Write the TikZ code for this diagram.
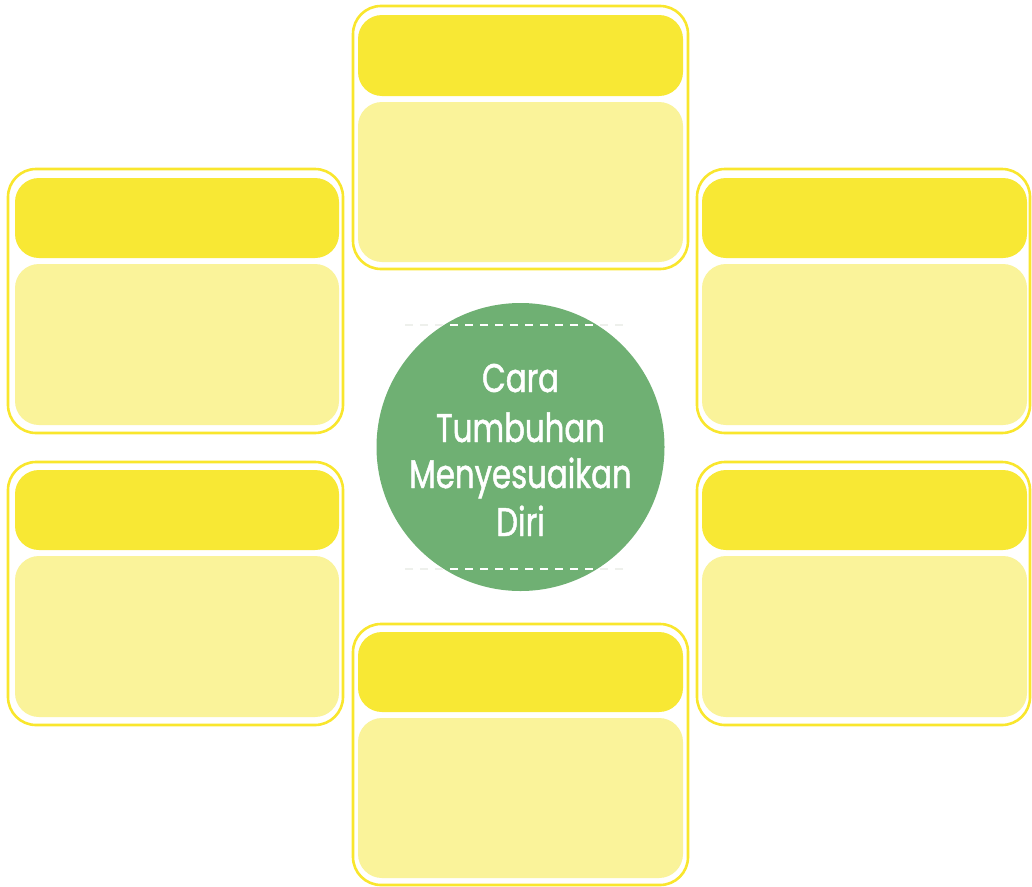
\documentclass[tikz,border=0pt]{standalone}
\usepackage{fontspec}
\newfontfamily\labelfont[FakeStretch=0.77,FakeBold=1.2]{Poppins}
\definecolor{cardline}{RGB}{249,230,45}
\definecolor{headfill}{RGB}{248,232,52}
\definecolor{bodyfill}{RGB}{250,243,154}
\definecolor{circfill}{RGB}{111,176,115}
\definecolor{faintdash}{RGB}{238,240,236}
\tikzset{
  outerbox/.style={draw=cardline, line width=2.6pt, rounded corners=28pt, fill=white, inner sep=0pt},
  headbox/.style={fill=headfill, rounded corners=24pt, inner sep=0pt},
  bodybox/.style={fill=bodyfill, rounded corners=24pt, inner sep=0pt},
  titletext/.style={text=white, font=\labelfont\fontsize{40}{48}\selectfont, inner sep=0pt, anchor=base},
  dashline/.style={line width=2pt, dash pattern=on 8pt off 7pt}
}
\begin{document}
\begin{tikzpicture}[x=1pt,y=-1pt]
\useasboundingbox (0,0) rectangle (1032,886);
% top card
\node[outerbox, minimum width=335pt, minimum height=263pt] (topO) at (520.5,137.5) {};
\node[headbox, minimum width=325pt, minimum height=81pt] (topH) at (520.5,55.5) {};
\node[bodybox, minimum width=325pt, minimum height=160pt] (topB) at (520.5,182) {};
% left top card
\node[outerbox, minimum width=335pt, minimum height=264pt] (ltO) at (175.5,301) {};
\node[headbox, minimum width=324pt, minimum height=80pt] (ltH) at (177,218) {};
\node[bodybox, minimum width=324pt, minimum height=161pt] (ltB) at (177,344.5) {};
% left bottom card
\node[outerbox, minimum width=335pt, minimum height=263pt] (lbO) at (175.5,593.5) {};
\node[headbox, minimum width=324pt, minimum height=80pt] (lbH) at (177,510) {};
\node[bodybox, minimum width=324pt, minimum height=161pt] (lbB) at (177,636.5) {};
% right top card
\node[outerbox, minimum width=333pt, minimum height=264pt] (rtO) at (863.5,301) {};
\node[headbox, minimum width=325pt, minimum height=80pt] (rtH) at (864.5,218) {};
\node[bodybox, minimum width=325pt, minimum height=161pt] (rtB) at (864.5,344.5) {};
% right bottom card
\node[outerbox, minimum width=333pt, minimum height=263pt] (rbO) at (863.5,593.5) {};
\node[headbox, minimum width=325pt, minimum height=80pt] (rbH) at (864.5,510) {};
\node[bodybox, minimum width=325pt, minimum height=161pt] (rbB) at (864.5,636.5) {};
% bottom card
\node[outerbox, minimum width=335pt, minimum height=261pt] (boO) at (520.5,754.5) {};
\node[headbox, minimum width=325pt, minimum height=80pt] (boH) at (520.5,672) {};
\node[bodybox, minimum width=325pt, minimum height=160pt] (boB) at (520.5,798) {};
% centre circle
\node[circle, fill=circfill, minimum size=288pt, inner sep=0pt] (hub) at (520.5,447) {};
\coordinate (d1a) at (405,325);
\coordinate (d1b) at (625,325);
\coordinate (d2a) at (405,569);
\coordinate (d2b) at (625,569);
\draw[dashline, faintdash] (d1a) -- (d1b);
\draw[dashline, faintdash] (d2a) -- (d2b);
\begin{scope}
  \clip (hub.center) circle (144pt);
  \draw[dashline, white] (d1a) -- (d1b);
  \draw[dashline, white] (d2a) -- (d2b);
\end{scope}
\node[titletext] (t1) at (520.5,392) {Cara};
\node[titletext] (t2) at (520.5,442) {Tumbuhan};
\node[titletext] (t3) at (520.5,488) {Menyesuaikan};
\node[titletext] (t4) at (520.5,536) {Diri};
\end{tikzpicture}
\end{document}
